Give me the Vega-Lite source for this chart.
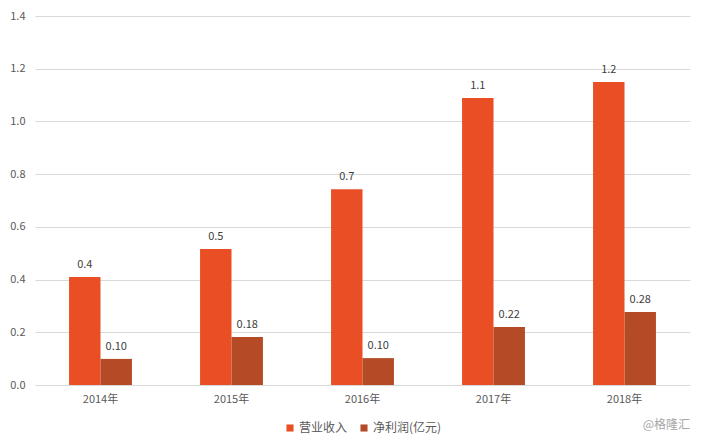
{
  "$schema": "https://vega.github.io/schema/vega-lite/v6.json",
  "width": 655,
  "height": 369,
  "padding": {"left": 9, "top": 10, "right": 14, "bottom": 5},
  "autosize": {"type": "pad"},
  "background": "#ffffff",
  "config": {
    "font": "Noto Sans CJK SC",
    "view": {"stroke": null},
    "axis": {"labelColor": "#595959", "labelFontSize": 11, "domain": false, "ticks": false, "title": null},
    "legend": {"layout": {"bottom": {"anchor": "middle"}}}
  },
  "title": {"text": "@格隆汇", "orient": "bottom", "anchor": "end", "fontSize": 12, "fontWeight": "normal", "color": "#a6a6a6", "offset": 0, "dy": -14},
  "data": {"values": [
    {"year": "2014年", "series": "营业收入", "value": 0.41, "label": "0.4"},
    {"year": "2014年", "series": "净利润(亿元)", "value": 0.099, "label": "0.10"},
    {"year": "2015年", "series": "营业收入", "value": 0.516, "label": "0.5"},
    {"year": "2015年", "series": "净利润(亿元)", "value": 0.182, "label": "0.18"},
    {"year": "2016年", "series": "营业收入", "value": 0.743, "label": "0.7"},
    {"year": "2016年", "series": "净利润(亿元)", "value": 0.102, "label": "0.10"},
    {"year": "2017年", "series": "营业收入", "value": 1.089, "label": "1.1"},
    {"year": "2017年", "series": "净利润(亿元)", "value": 0.22, "label": "0.22"},
    {"year": "2018年", "series": "营业收入", "value": 1.15, "label": "1.2"},
    {"year": "2018年", "series": "净利润(亿元)", "value": 0.277, "label": "0.28"}
  ]},
  "encoding": {
    "x": {"field": "year", "type": "nominal", "scale": {"paddingInner": 0.52, "paddingOuter": 0.26},
      "axis": {"labelAngle": 0, "labelPadding": 8, "labelFontSize": 11, "labelColor": "#595959"}},
    "xOffset": {"field": "series", "type": "nominal", "sort": ["营业收入", "净利润(亿元)"], "scale": {"paddingInner": 0}},
    "y": {"field": "value", "type": "quantitative",
      "scale": {"domain": [0, 1.4], "nice": false},
      "axis": {"values": [0, 0.2, 0.4, 0.6, 0.8, 1.0, 1.2, 1.4], "format": ".1f", "labelPadding": 10, "gridColor": "#d9d9d9", "labelFontSize": 11}}
  },
  "layer": [
    {
      "mark": {"type": "bar"},
      "encoding": {
        "color": {"field": "series", "type": "nominal", "sort": ["营业收入", "净利润(亿元)"],
          "scale": {"domain": ["营业收入", "净利润(亿元)"], "range": ["#E94E24", "#B44A26"]},
          "legend": {"orient": "bottom", "direction": "horizontal", "title": null, "symbolType": "square", "symbolSize": 50, "labelFontSize": 12, "labelColor": "#595959", "symbolStrokeWidth": 0, "columnPadding": 10, "labelOffset": 3, "offset": 18}
        }
      }
    },
    {
      "mark": {"type": "text", "baseline": "bottom", "dy": -7, "fontSize": 11, "color": "#404040"},
      "encoding": {"text": {"field": "label"}}
    }
  ]
}
